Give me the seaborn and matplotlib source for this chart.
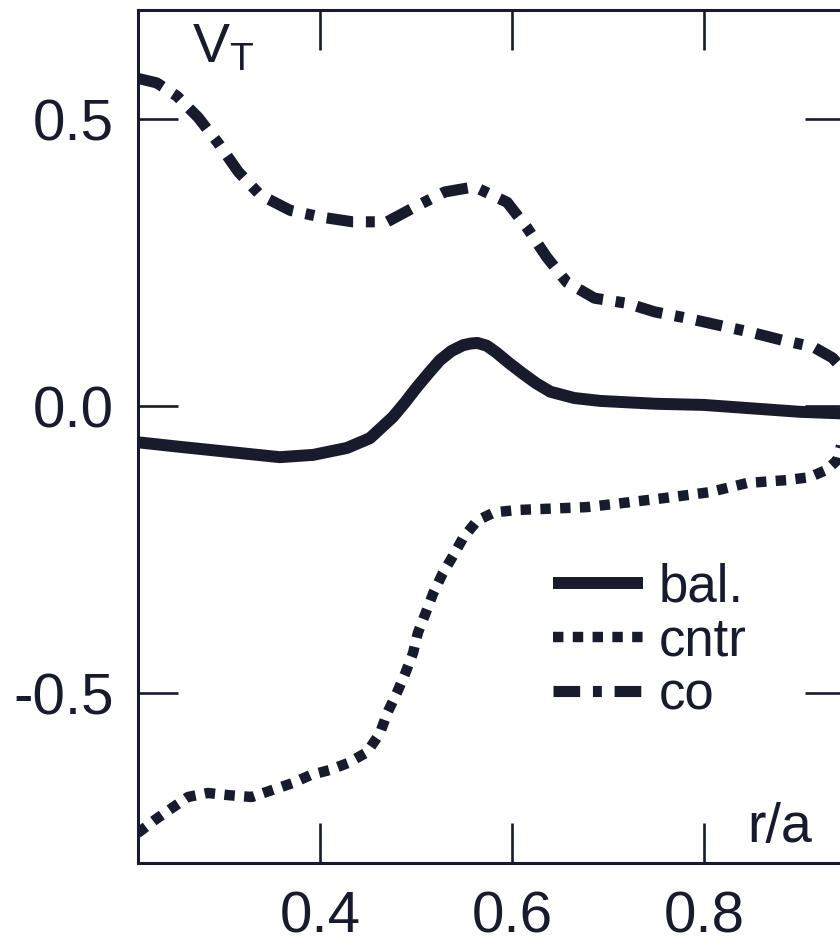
import matplotlib
matplotlib.use("Agg")
import matplotlib.pyplot as plt
import numpy as np
import pandas as pd
import seaborn as sns

# Radial profiles of the toroidal velocity V_T versus normalised radius r/a
r_bal = [0.21, 0.254, 0.306, 0.358, 0.393, 0.428, 0.452, 0.476, 0.488, 0.501,
         0.513, 0.525, 0.537, 0.549, 0.557, 0.564, 0.574, 0.584, 0.597, 0.611, 0.625,
         0.64, 0.665, 0.692, 0.75, 0.8, 0.85, 0.9, 0.947]
v_bal = [-0.063, -0.071, -0.080, -0.089, -0.085, -0.073, -0.056, -0.019, 0.005, 0.033,
         0.057, 0.080, 0.096, 0.106, 0.109, 0.110, 0.105, 0.093, 0.075, 0.057, 0.040,
         0.025, 0.014, 0.009, 0.004, 0.002, -0.004, -0.010, -0.013]

r_cntr = [0.21, 0.228, 0.246, 0.2625, 0.283, 0.306, 0.329, 0.35, 0.371, 0.39,
          0.41, 0.429, 0.449, 0.4625, 0.47, 0.48, 0.489, 0.497, 0.502, 0.51,
          0.518, 0.528, 0.539, 0.549, 0.564, 0.582, 0.606, 0.65, 0.678, 0.72,
          0.76, 0.806, 0.845, 0.886, 0.91, 0.928, 0.939, 0.945]
v_cntr = [-0.744, -0.721, -0.700, -0.681, -0.674, -0.678, -0.681, -0.669, -0.657, -0.643,
          -0.634, -0.622, -0.603, -0.570, -0.535, -0.500, -0.465, -0.430, -0.395, -0.361,
          -0.326, -0.291, -0.260, -0.230, -0.199, -0.185, -0.181, -0.178, -0.176, -0.168,
          -0.160, -0.150, -0.134, -0.129, -0.124, -0.111, -0.094, -0.055]

r_co = [0.21, 0.23, 0.251, 0.273, 0.294, 0.315, 0.3375, 0.369, 0.402, 0.434,
        0.47, 0.499, 0.530, 0.561, 0.595, 0.616, 0.636, 0.657, 0.686, 0.72,
        0.749, 0.783, 0.815, 0.848, 0.881, 0.914, 0.934, 0.947]
v_co = [0.571, 0.563, 0.540, 0.503, 0.458, 0.408, 0.368, 0.341, 0.329, 0.321,
        0.321, 0.347, 0.373, 0.382, 0.355, 0.310, 0.260, 0.216, 0.188, 0.179,
        0.164, 0.153, 0.141, 0.129, 0.115, 0.103, 0.084, 0.060]

labels = ["bal.", "cntr", "co"]
x_ticks = [0.4, 0.6, 0.8]
y_ticks = [-0.5, 0.0, 0.5]
y_tick_labels = ["-0.5", "0.0", "0.5"]

ink = "#171b2b"

sns.set_theme(style="ticks")
plt.rcParams["font.family"] = ["Liberation Sans", "DejaVu Sans"]
plt.rcParams["mathtext.fontset"] = "custom"
plt.rcParams["mathtext.rm"] = "Liberation Sans"
plt.rcParams["mathtext.it"] = "Liberation Sans:italic"
plt.rcParams["axes.unicode_minus"] = False

fig = plt.figure(figsize=(8.4, 9.48), dpi=100)
ax = fig.add_axes([137.6 / 840, 85 / 948, 707.4 / 840, 853 / 948])

df_bal = pd.DataFrame({"r": r_bal, "V": v_bal})
df_cntr = pd.DataFrame({"r": r_cntr, "V": v_cntr})
df_co = pd.DataFrame({"r": r_co, "V": v_co})

sns.lineplot(data=df_bal, x="r", y="V", ax=ax, color=ink, lw=8.6,
             estimator=None, sort=False, label=labels[0],
             solid_capstyle="butt", solid_joinstyle="round")
sns.lineplot(data=df_cntr, x="r", y="V", ax=ax, color=ink, lw=7.5,
             estimator=None, sort=False, label=labels[1],
             linestyle=(0, (1.0, 0.9)), dash_capstyle="butt")
sns.lineplot(data=df_co, x="r", y="V", ax=ax, color=ink, lw=8.0,
             estimator=None, sort=False, label=labels[2],
             linestyle=(0, (2.4, 1.15, 0.8, 1.15)), dash_capstyle="butt")

ax.set_xlim(0.21, 0.947)
ax.set_ylim(-0.796, 0.690)
ax.set_xticks(x_ticks)
ax.set_xticklabels([f"{t:.1f}" for t in x_ticks])
ax.set_yticks(y_ticks)
ax.set_yticklabels(y_tick_labels)
ax.set_xlabel("")
ax.set_ylabel("")

for s in ax.spines.values():
    s.set_linewidth(2.2)
    s.set_color(ink)

ax.tick_params(axis="both", which="major", direction="in", length=29, width=1.9,
               color=ink, labelcolor=ink, labelsize=42,
               top=True, right=True)
ax.tick_params(axis="x", pad=20)
ax.tick_params(axis="y", pad=17)

ax.text(0.267, 0.599, r"V$_{\rm T}$", fontsize=40, color=ink,
        ha="left", va="baseline")
ax.text(0.845, -0.760, "r/a", fontsize=40, color=ink,
        ha="left", va="baseline")

leg = ax.legend(loc="upper left", bbox_to_anchor=(0.587, 0.352),
                frameon=False, fontsize=38, handlelength=1.7,
                handletextpad=0.3, labelspacing=0.07, borderpad=0,
                borderaxespad=0)
for t in leg.get_texts():
    t.set_color(ink)

fig.savefig("out.png", dpi=100)
